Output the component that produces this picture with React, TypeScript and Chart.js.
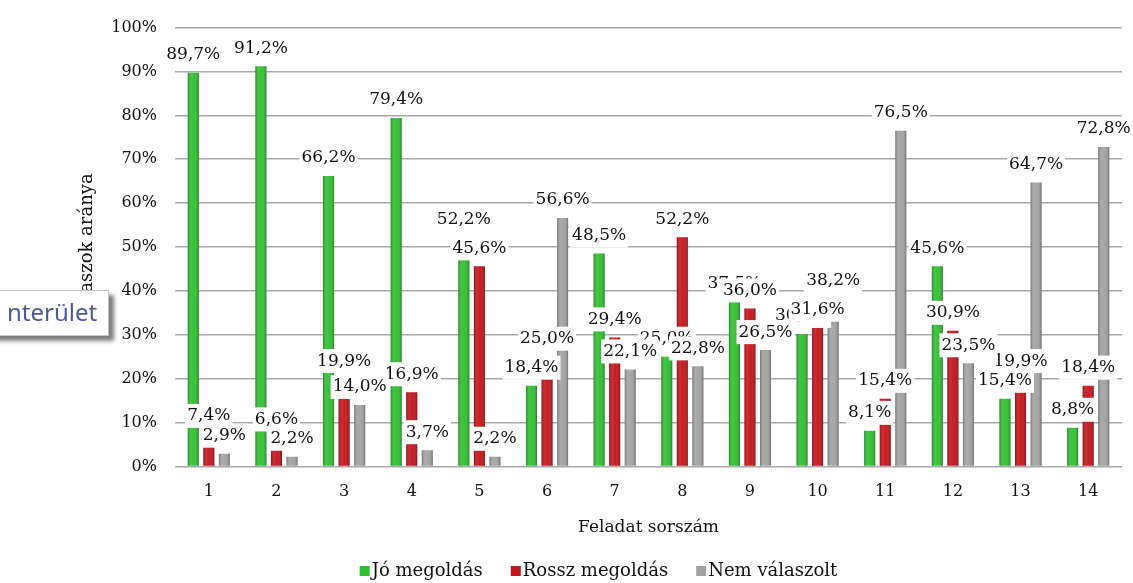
import React, { useEffect, useRef } from "react";
import { Chart, registerables } from "chart.js";

Chart.register(...registerables);

const categories = ["1", "2", "3", "4", "5", "6", "7", "8", "9", "10", "11", "12", "13", "14"];
const joMegoldas = [89.7, 91.2, 66.2, 79.4, 52.2, 18.4, 48.5, 25.0, 37.5, 30.2, 8.1, 45.6, 15.4, 8.8];
const rosszMegoldas = [7.4, 6.6, 19.9, 16.9, 45.6, 25.0, 29.4, 52.2, 36.0, 31.6, 15.4, 30.9, 19.9, 18.4];
const nemValaszolt = [2.9, 2.2, 14.0, 3.7, 2.2, 56.6, 22.1, 22.8, 26.5, 38.2, 76.5, 23.5, 64.7, 72.8];
const seriesNames = ["Jó megoldás", "Rossz megoldás", "Nem válaszolt"];
const seriesColors = ["#30bf30", "#c3151b", "#a2a2a2"];
const xTitle = "Feladat sorszám";
const yTitle = "Válaszok aránya";

const FONT = '"DejaVu Serif", "Liberation Serif", serif';

const fmt = (v: number) => v.toFixed(1).replace(".", ",") + "%";

const decorPlugin = {
  id: "decor",
  afterDatasetsDraw(chart: any) {
    const ctx = chart.ctx as CanvasRenderingContext2D;
    ctx.save();
    // cylinder-like shading on bars
    chart.data.datasets.forEach((_ds: any, di: number) => {
      const meta = chart.getDatasetMeta(di);
      meta.data.forEach((bar: any) => {
        const left = bar.x - bar.width / 2;
        const right = bar.x + bar.width / 2;
        const g = ctx.createLinearGradient(left, 0, right, 0);
        g.addColorStop(0, "rgba(0,0,0,0.28)");
        g.addColorStop(0.3, "rgba(255,255,255,0.10)");
        g.addColorStop(0.6, "rgba(255,255,255,0.04)");
        g.addColorStop(1, "rgba(0,0,0,0.30)");
        ctx.fillStyle = g;
        ctx.fillRect(left, bar.y, bar.width, bar.base - bar.y);
      });
    });
    // value labels with white background
    ctx.font = "17px " + FONT;
    ctx.textAlign = "center";
    ctx.textBaseline = "middle";
    chart.data.datasets.forEach((ds: any, di: number) => {
      const meta = chart.getDatasetMeta(di);
      meta.data.forEach((bar: any, i: number) => {
        const text = fmt(ds.data[i]);
        const w = ctx.measureText(text).width;
        const cy = bar.y - 18;
        ctx.fillStyle = "#ffffff";
        ctx.fillRect(bar.x - w / 2 - 2, cy - 12, w + 4, 24);
        ctx.fillStyle = "#111111";
        ctx.fillText(text, bar.x, cy);
      });
    });
    ctx.restore();
  },
  afterDraw(chart: any) {
    const ctx = chart.ctx as CanvasRenderingContext2D;
    const area = chart.chartArea;
    ctx.save();
    ctx.font = "18px " + FONT;
    ctx.textBaseline = "middle";
    ctx.textAlign = "left";
    const box = 10;
    const gapText = 2;
    const gapItem = 28;
    const widths = seriesNames.map((n) => box + gapText + ctx.measureText(n).width);
    const total = widths.reduce((a, b) => a + b, 0) + gapItem * (seriesNames.length - 1);
    const center = (area.left + area.right) / 2 - 50;
    let x = center - total / 2;
    const y = chart.height - 12;
    seriesNames.forEach((n, i) => {
      ctx.fillStyle = seriesColors[i];
      ctx.fillRect(x, y - box / 2, box, box);
      ctx.fillStyle = "#111111";
      ctx.fillText(n, x + box + gapText, y);
      x += widths[i] + gapItem;
    });
    ctx.restore();
  },
};

export default function App() {
  const ref = useRef<HTMLCanvasElement>(null);

  useEffect(() => {
    if (!ref.current) return;
    const series = [joMegoldas, rosszMegoldas, nemValaszolt];
    const chart = new Chart(ref.current, {
      type: "bar",
      data: {
        labels: categories,
        datasets: series.map((d, i) => ({
          label: seriesNames[i],
          data: d,
          backgroundColor: seriesColors[i],
          borderWidth: 0,
          categoryPercentage: 0.69,
          barPercentage: 0.71,
        })),
      },
      options: {
        animation: false,
        responsive: true,
        maintainAspectRatio: false,
        layout: { padding: { left: 75, right: 11, top: 24, bottom: 24 } },
        plugins: {
          legend: { display: false },
          tooltip: { enabled: false },
          title: { display: false },
        },
        scales: {
          x: {
            grid: { display: false, drawTicks: false },
            border: { display: false },
            ticks: {
              padding: 16,
              color: "#111111",
              font: { family: FONT, size: 16 },
            },
            title: {
              display: true,
              text: xTitle,
              color: "#111111",
              font: { family: FONT, size: 17 },
              padding: { top: 0, bottom: 21 },
            },
          },
          y: {
            min: 0,
            max: 100,
            afterFit: (scale: any) => {
              scale.width = 100;
            },
            grid: { color: "#a9a9a9", lineWidth: 1.5, drawTicks: false },
            border: { display: false },
            ticks: {
              stepSize: 10,
              padding: 18,
              color: "#111111",
              font: { family: FONT, size: 16 },
              callback: (v: any) => v + "%",
            },
            title: {
              display: true,
              text: yTitle,
              color: "#111111",
              font: { family: FONT, size: 18 },
              padding: { top: 2, bottom: 0 },
            },
          },
        },
      },
      plugins: [decorPlugin],
    });
    return () => chart.destroy();
  }, []);

  return (
    <div
      style={{
        position: "fixed",
        left: 0,
        top: 0,
        width: 1133,
        height: 583,
        background: "#ffffff",
        overflow: "hidden",
      }}
    >
      <div style={{ position: "relative", width: 1133, height: 583 }}>
        <canvas ref={ref} />
      </div>
      <div
        style={{
          position: "absolute",
          left: -10,
          top: 290,
          width: 119,
          height: 46,
          background: "#ffffff",
          border: "1px solid #c4c4c4",
          boxShadow: "5px 5px 4px rgba(0,0,0,0.5)",
          boxSizing: "border-box",
          fontFamily: '"Noto Sans", "Open Sans", sans-serif',
          fontSize: 24,
          lineHeight: "42px",
          color: "#4d5a94",
          paddingLeft: 16,
          whiteSpace: "nowrap",
          overflow: "hidden",
        }}
      >
        nterület
      </div>
    </div>
  );
}
